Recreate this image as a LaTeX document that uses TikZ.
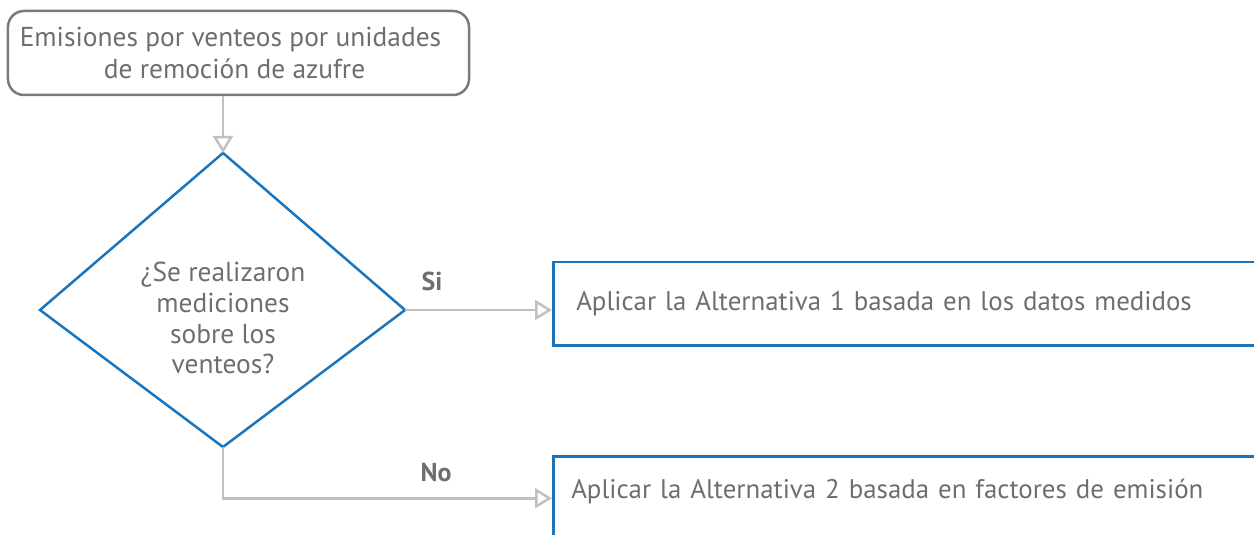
\documentclass[tikz,border=0pt]{standalone}
\usepackage{fontspec}
\setmainfont{PT Sans}
\usetikzlibrary{arrows.meta}
\definecolor{txtgray}{HTML}{6D6E71}
\definecolor{linegray}{HTML}{C0C0C2}
\definecolor{boxblue}{HTML}{1B75BC}
\definecolor{framegray}{HTML}{7A7B7E}

\begin{document}
\begin{tikzpicture}[x=1bp, y=-1bp,
  font=\fontsize{27.5}{31}\selectfont, text=txtgray,
  startbox/.style={draw=framegray, line width=2.5bp, rounded corners=16bp,
    minimum width=461bp, minimum height=84bp, align=center, inner sep=0pt,
    font=\fontsize{27.5}{33}\selectfont},
  altbox/.style={draw=boxblue, line width=2.5bp, anchor=north west, align=left,
    font=\fontsize{27}{31}\selectfont},
  decision/.style={draw=boxblue, line width=2.5bp, line join=miter},
  conn/.style={draw=linegray, line width=2.5bp,
    -{Triangle[open, length=17bp, width=20bp, line width=2.5bp]}},
  lbl/.style={font=\fontsize{26}{27}\selectfont\bfseries}]
\useasboundingbox (0,0) rectangle (1254,535);
\clip (0,0) rectangle (1254,535);

% start box (lines set slightly left of the box centre)
\node[startbox] (s) at (238.5,53)
  {Emisiones por venteos por unidades\hspace*{16bp}\\de remoción de azufre\hspace*{8bp}};

% decision (kite-shaped diamond)
\coordinate (dt) at (223,153);
\coordinate (dl) at (40,310);
\coordinate (dr) at (405,310);
\coordinate (db) at (223,447);
\draw[decision] (dt) -- (dr) -- (db) -- (dl) -- cycle;
\node[align=center, inner sep=0pt] (q) at (223,318)
  {¿Se realizaron\\mediciones\\sobre los\\venteos?};

% outcome boxes
\node[altbox, minimum height=83bp, inner xsep=23bp, text width=674bp] (a1) at (552,261)
  {Aplicar la Alternativa 1 basada en los datos medidos};
\node[altbox, inner xsep=18bp, inner ysep=0pt, text width=680bp,
  text height=42bp, text depth=42bp] (a2) at (552,455)
  {Aplicar la Alternativa 2 basada en factores de emisión};

% connectors
\draw[conn] (s.south -| dt) -- (dt);
\draw[conn] (dr) -- (dr -| a1.west);
\draw[conn] (db) |- (a2.west);

% branch labels
\node[lbl] (si) at (432,281) {Si};
\node[lbl] (no) at (436,473) {No};
\end{tikzpicture}
\end{document}
